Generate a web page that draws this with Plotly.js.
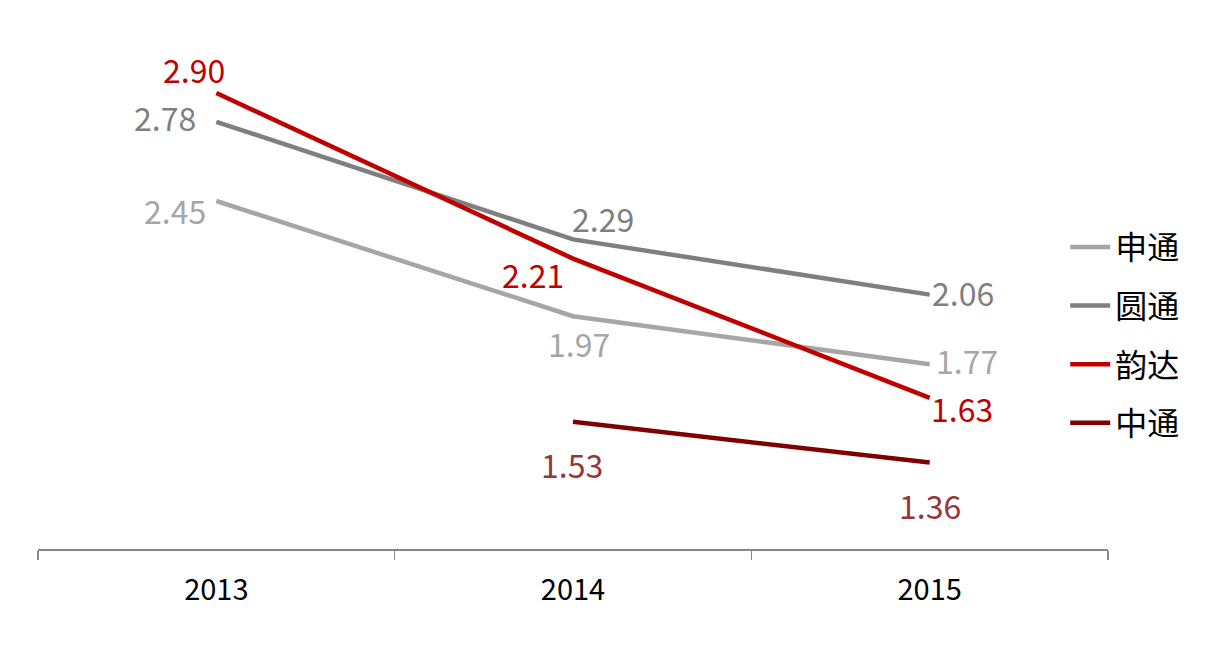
<!DOCTYPE html>
<html>
<head>
<meta charset="utf-8">
<script src="https://cdn.plot.ly/plotly-3.0.1.min.js"></script>
<style>html,body{margin:0;padding:0;background:#fff;}#chart{width:1210px;height:669px;}</style>
</head>
<body>
<div id="chart"></div>
<script>
// ---- data ----
const years = ['2013', '2014', '2015'];
const seriesNames = ['申通', '圆通', '韵达', '中通'];
const sto = [2.45, 1.97, 1.77];
const yto = [2.78, 2.29, 2.06];
const yunda = [2.90, 2.21, 1.63];
const zto = [null, 1.53, 1.36];

// ---- styles ----
const lineColors = ['#A6A6A6', '#7F7F7F', '#C00000', '#800000'];
const labelColors = ['#A6A6A6', '#7F7F7F', '#C00000', '#953735'];
// label offsets (px) per series per point [xshift, yshift]
const labelOffsets = [
  [[-41, -12], [6, -30], [37, 1]],
  [[-51, 2], [30, 18], [33, 0]],
  [[-22, 21], [-40, -18], [32, -13]],
  [[0, 0], [-1, -45], [0, -45]]
];
const baseYShift = 3;

const allSeries = [sto, yto, yunda, zto];
const font = 'Noto Sans CJK SC, Noto Sans, sans-serif';

const traces = allSeries.map((vals, i) => ({
  type: 'scatter',
  mode: 'lines',
  x: years,
  y: vals,
  name: seriesNames[i],
  legendgroup: 'g' + i,
  line: {color: lineColors[i], width: 4.5},
  hoverinfo: 'skip'
}));

const annotations = [];
allSeries.forEach((vals, i) => {
  vals.forEach((v, j) => {
    if (v === null) return;
    annotations.push({
      x: j, y: v, xref: 'x', yref: 'y',
      text: v.toFixed(2), showarrow: false,
      xshift: labelOffsets[i][j][0], yshift: labelOffsets[i][j][1] + baseYShift,
      font: {family: font, size: 32, color: labelColors[i]}
    });
  });
});

const layout = {
  width: 1210, height: 669,
  margin: {l: 38, r: 102, t: 21, b: 120},
  paper_bgcolor: '#fff', plot_bgcolor: '#fff',
  showlegend: true,
  legend: {
    x: 0.96, xanchor: 'left', y: 0.405, yanchor: 'middle',
    font: {family: font, size: 32, color: '#000'},
    traceorder: 'grouped', tracegroupgap: 14,
    itemwidth: 40,
    bgcolor: 'rgba(0,0,0,0)'
  },
  xaxis: {
    type: 'category', range: [-0.5, 2.5],
    showgrid: false, zeroline: false,
    showline: true, linecolor: '#868686', linewidth: 1.5,
    ticks: 'outside', ticklen: 9, tickcolor: '#868686', tickwidth: 1.5,
    tickson: 'boundaries', ticklabelstandoff: 15,
    tickfont: {family: font, size: 29, color: '#000'},
    fixedrange: true
  },
  yaxis: {
    range: [1.0, 3.2], visible: false, showgrid: false, zeroline: false,
    fixedrange: true
  },
  annotations: annotations
};

Plotly.newPlot('chart', traces, layout, {displayModeBar: false, staticPlot: true});
</script>
</body>
</html>
